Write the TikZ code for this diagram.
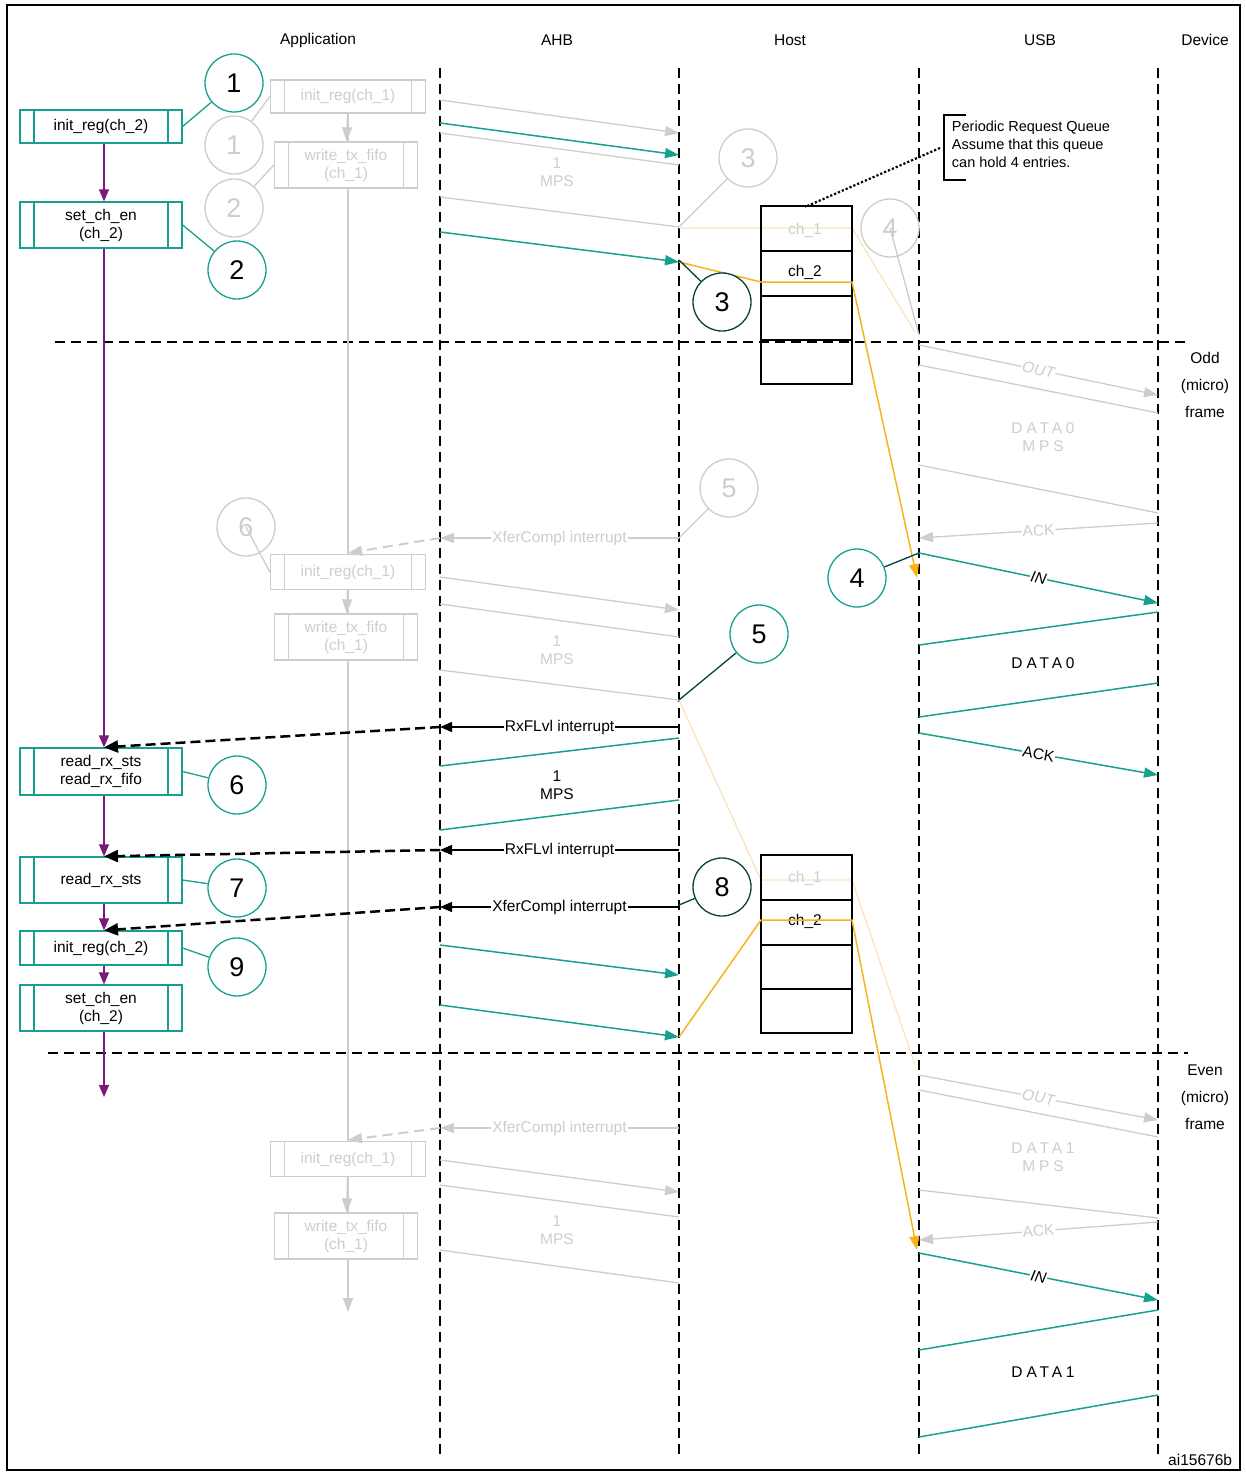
\documentclass[tikz,border=0pt]{standalone}
\usepackage{fontspec}
\setmainfont{Liberation Sans}
\usetikzlibrary{arrows.meta,positioning}
\definecolor{cteal}{HTML}{17A08F}
\definecolor{cpurple}{HTML}{7A1A78}
\definecolor{corange}{HTML}{F5B41E}
\definecolor{cfade}{HTML}{CDCDCD}
\definecolor{cfadeor}{HTML}{FBE3BE}
\tikzset{
  every node/.style={font=\fontsize{15.5}{18}\selectfont},
  procbox/.style={draw=#1, minimum width=162pt, align=center, inner sep=0pt,
    path picture={\draw[#1] ([xshift=14pt]path picture bounding box.south west) -- ([xshift=14pt]path picture bounding box.north west)
      ([xshift=-14pt]path picture bounding box.south east) -- ([xshift=-14pt]path picture bounding box.north east);}},
  num/.style={draw=#1, circle, minimum size=58pt, inner sep=0pt, font=\fontsize{27}{29}\selectfont, fill=white},
  life/.style={black, line width=2.5pt, dash pattern=on 10pt off 6pt},
  tip/.style={-{Triangle[length=14pt,width=10pt]}},
  lbl/.style={fill=white, inner sep=1pt},
  ital/.style={font=\itshape\fontsize{15.5}{18}\selectfont},
  spaced/.style={font=\fontsize{15.5}{18}\selectfont\addfontfeature{LetterSpace=25}},
}
\begin{document}
\begin{tikzpicture}[x=1pt,y=-1pt,line width=1.3pt]
  \useasboundingbox (0,0) rectangle (1245,1474);
  \draw[line width=2pt] (7,5) rectangle (1240,1470);

  % headers
  \node at (318,40) {Application};
  \node at (557,40) {AHB};
  \node at (790,40) {Host};
  \node at (1040,40) {USB};
  \node at (1205,40) {Device};

  % lifelines and frame borders
  \foreach \x in {440,679,919,1158}
    \draw[life] (\x,68) -- (\x,1455);
  \draw[life] (55,342) -- (1188,342);
  \draw[life] (48,1053) -- (1188,1053);
  \node[align=center] at (1205,385) {Odd\\[9pt](micro)\\[9pt]frame};
  \node[align=center] at (1205,1097) {Even\\[9pt](micro)\\[9pt]frame};

  % faded channel 1 flow
  \begin{scope}[cfade, every node/.append style={text=cfade}]
    \draw (348,113) -- (348,1305);
    \node[procbox=cfade, minimum width=155pt, minimum height=33pt, fill=white] (gi1) at (348,96.5) {init\_reg(ch\_1)};
    \node[procbox=cfade, minimum width=143pt, minimum height=46pt, fill=white] (gw1) at (346,165) {write\_tx\_fifo\\(ch\_1)};
    \node[procbox=cfade, minimum width=155pt, minimum height=35pt, fill=white] (gi2) at (348,572) {init\_reg(ch\_1)};
    \node[procbox=cfade, minimum width=143pt, minimum height=46pt, fill=white] (gw2) at (346,637) {write\_tx\_fifo\\(ch\_1)};
    \node[procbox=cfade, minimum width=155pt, minimum height=35pt, fill=white] (gi3) at (348,1159) {init\_reg(ch\_1)};
    \node[procbox=cfade, minimum width=143pt, minimum height=46pt, fill=white] (gw3) at (346,1236) {write\_tx\_fifo\\(ch\_1)};
    \draw[tip] (gi1) -- (gw1);
    \draw[tip] (gi2) -- (gw2);
    \draw[tip] (gi3) -- (gw3);
    \draw[tip] (348,1280) -- (348,1312);
    \node[num=cfade] (g1) at (234,145) {1};
    \node[num=cfade] (g2) at (234,208) {2};
    \node[num=cfade] (g3) at (748,158) {3};
    \node[num=cfade] (g4) at (890,228) {4};
    \node[num=cfade] (g5) at (729,488) {5};
    \node[num=cfade] (g6) at (246,527) {6};
    \draw (g1) -- (gi1.west);
    \draw (g2) -- (gw1.west);
    \draw (g3) -- (679,227);
    \draw (g4.center) -- (919,335);
    \draw (g5) -- (679,538);
    \draw (g6.center) -- (gi2.west);
    % AHB -> host
    \draw[tip] (440,100) -- (679,133);
    \draw (440,133) -- (679,165);
    \draw (440,197) -- (679,227);
    \node[align=center] at (557,172) {1\\MPS};
    \draw[tip] (440,577) -- (679,610);
    \draw (440,604) -- (679,637);
    \draw (440,670) -- (679,700);
    \node[align=center] at (557,650) {1\\MPS};
    \draw[tip] (440,1160) -- (679,1192);
    \draw (440,1185) -- (679,1217);
    \draw (440,1250) -- (679,1283);
    \node[align=center] at (557,1230) {1\\MPS};
    \draw[tip] (679,538) -- node[lbl]{XferCompl interrupt} (440,538);
    \draw[tip, line width=2pt, dash pattern=on 10pt off 6pt] (440,538) -- (348,553);
    \draw[tip] (679,1128) -- node[lbl]{XferCompl interrupt} (440,1128);
    \draw[tip, line width=2pt, dash pattern=on 10pt off 6pt] (440,1128) -- (348,1140);
    % host -> device
    \draw[tip] (919,345) -- node[lbl, sloped, ital]{OUT} (1158,395);
    \draw (919,365) -- (1158,413);
    \node[align=center, spaced] at (1043,437) {DATA0\\MPS};
    \draw (919,465) -- (1158,513);
    \draw[tip] (1158,523) -- node[lbl, sloped]{ACK} (919,538);
    \draw[tip] (919,1075) -- node[lbl, sloped, ital]{OUT} (1158,1120);
    \draw (919,1090) -- (1158,1137);
    \node[align=center, spaced] at (1043,1157) {DATA1\\MPS};
    \draw (919,1190) -- (1158,1218);
    \draw[tip] (1158,1222) -- node[lbl, sloped]{ACK} (919,1240);
  \end{scope}

  % faint queue paths for ch_1
  \draw[cfadeor] (679,228) -- (852,228) -- (915,332);
  \draw[cfadeor] (679,700) -- (761,880) -- (852,880) -- (915,1065);

  % periodic request queue
  \foreach \t in {206,855} {
    \draw (761,\t) rectangle (852,\t+178);
    \foreach \d in {45,90,134}
      \draw (761,\t+\d) -- (852,\t+\d);
  }
  \node[text=cfade] (q1a) at (805,230) {ch\_1};
  \node (q1b) at (805,272) {ch\_2};
  \node[text=cfade] (q2a) at (805,878) {ch\_1};
  \node (q2b) at (805,921) {ch\_2};
  \draw (966,115) -- (944,115) -- (944,180) -- (966,180);
  \node[anchor=north west, align=left, font=\fontsize{14.5}{18}\selectfont] (note) at (948,117) {Periodic Request Queue\\Assume that this queue\\can hold 4 entries.};
  \draw[line width=2.2pt, dotted] (940,148) -- (805,207);

  % queue to USB
  \draw[corange, line width=1.5pt, tip] (679,262) -- (761,282) -- (852,282) -- (917,578);
  \draw[corange, line width=1.5pt, tip] (679,1037) -- (761,920) -- (852,920) -- (917,1250);

  % channel 2 application flow
  \node[procbox=cteal, minimum height=33pt] (ini) at (101,126.5) {init\_reg(ch\_2)};
  \node[procbox=cteal, minimum height=46pt] (sen) at (101,225) {set\_ch\_en\\(ch\_2)};
  \node[procbox=cteal, minimum height=47pt] (rrf) at (101,771.5) {read\_rx\_sts\\read\_rx\_fifo};
  \node[procbox=cteal, minimum height=46pt] (rrs) at (101,880) {read\_rx\_sts};
  \node[procbox=cteal, minimum height=34pt] (inib) at (101,948) {init\_reg(ch\_2)};
  \node[procbox=cteal, minimum height=46pt] (senb) at (101,1008) {set\_ch\_en\\(ch\_2)};
  \coordinate (append) at (104,1097);
  \begin{scope}[cpurple, -{Triangle[length=12pt,width=10pt]}]
    \draw (ini.south -| 104,0) -- (sen.north -| 104,0);
    \draw (sen.south -| 104,0) -- (rrf.north -| 104,0);
    \draw (rrf.south -| 104,0) -- (rrs.north -| 104,0);
    \draw (rrs.south -| 104,0) -- (inib.north -| 104,0);
    \draw (inib.south -| 104,0) -- (senb.north -| 104,0);
    \draw (senb.south -| 104,0) -- (append);
  \end{scope}

  % numbered steps
  \node[num=cteal] (n1) at (234,83) {1};
  \node[num=cteal] (n2) at (237,270) {2};
  \node[num=black!60!cteal] (n3) at (722,302) {3};
  \node[num=cteal] (n4) at (857,578) {4};
  \node[num=cteal] (n5) at (759,634) {5};
  \node[num=cteal] (n6) at (237,785) {6};
  \node[num=cteal] (n7) at (237,888) {7};
  \node[num=black!60!cteal] (n8) at (722,887) {8};
  \node[num=cteal] (n9) at (237,967) {9};
  \draw[cteal] (n1) -- (ini.east);
  \draw[cteal] (n2) -- (sen.east);
  \draw[black!60!cteal] (n3) -- (679,260);
  \draw[black!60!cteal] (n4) -- (919,553);
  \draw[black!60!cteal] (n5) -- (679,700);
  \draw[cteal] (n6) -- (rrf.east);
  \draw[cteal] (n7) -- (rrs.east);
  \draw[black!60!cteal] (n8) -- (679,905);
  \draw[cteal] (n9) -- (inib.east);

  % AHB transfers for ch_2
  \begin{scope}[cteal, line width=1.5pt]
    \draw[tip] (440,123) -- (679,155);
    \draw[tip] (440,232) -- (679,262);
    \draw (679,738) -- (440,766);
    \draw (679,800) -- (440,830);
    \draw[tip] (440,945) -- (679,975);
    \draw[tip] (440,1005) -- (679,1037);
    \draw[tip] (919,553) -- node[lbl, sloped, text=black, ital]{IN} (1158,603);
    \draw (1158,612) -- (919,645);
    \draw (1158,683) -- (919,717);
    \draw[tip] (919,733) -- node[lbl, sloped, text=black]{ACK} (1158,775);
    \draw[tip] (919,1253) -- node[lbl, sloped, text=black, ital]{IN} (1158,1300);
    \draw (1158,1310) -- (919,1350);
    \draw (1158,1395) -- (919,1437);
  \end{scope}
  \node[align=center] at (557,785) {1\\MPS};
  \node[spaced] at (1043,663) {DATA0};
  \node[spaced] at (1043,1372) {DATA1};

  % interrupts to application
  \draw[-{Triangle[length=12pt,width=10pt]}] (679,727) -- node[lbl]{RxFLvl interrupt} (440,727);
  \draw[-{Triangle[length=12pt,width=10pt]}] (679,850) -- node[lbl]{RxFLvl interrupt} (440,850);
  \draw[-{Triangle[length=12pt,width=10pt]}] (679,907) -- node[lbl]{XferCompl interrupt} (440,907);
  \begin{scope}[line width=2.5pt, dash pattern=on 10pt off 5pt, -{Triangle[length=14pt,width=12pt]}]
    \draw (440,727) -- (rrf.north -| 104,0);
    \draw (440,850) -- (rrs.north -| 104,0);
    \draw (440,907) -- (inib.north -| 104,0);
  \end{scope}

  \node[anchor=east] (fig) at (1236,1460) {ai15676b};
\end{tikzpicture}
\end{document}
